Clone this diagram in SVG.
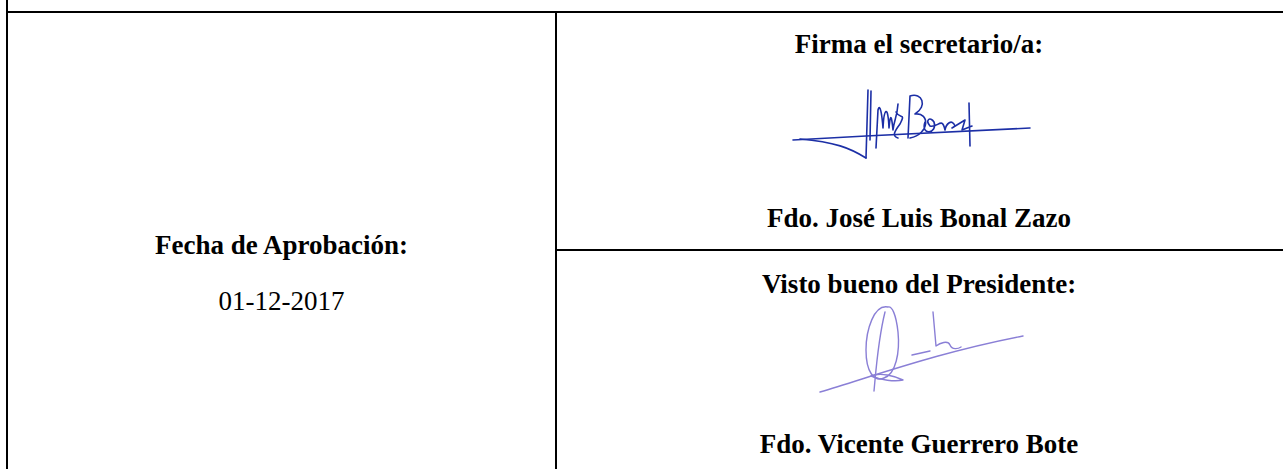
<svg xmlns="http://www.w3.org/2000/svg" width="1283" height="469" viewBox="0 0 1283 469">
<style>
.b{stroke:#000;stroke-width:2;fill:none}
.t{font-family:"Liberation Serif","Times New Roman",serif;font-size:27px;fill:#000;text-anchor:middle}
.bd{font-weight:bold}
.s1{stroke:#1c2fa6;stroke-width:1.6;fill:none;stroke-linecap:round;stroke-linejoin:round}
.s2{stroke:#8a7fd6;stroke-width:1.4;fill:none;stroke-linecap:round;stroke-linejoin:round}
</style>
<rect width="1283" height="469" fill="#fff"/>
<g id="grid">
<line class="b" x1="7" y1="0" x2="7" y2="469"/>
<line class="b" x1="6" y1="12" x2="1283" y2="12"/>
<line class="b" x1="556" y1="12" x2="556" y2="469"/>
<line class="b" x1="556" y1="250" x2="1283" y2="250"/>
</g>
<g id="cell-fecha">
<text class="t bd" x="281.5" y="254">Fecha de Aprobación:</text>
<text class="t" x="281.5" y="310">01-12-2017</text>
</g>
<g id="cell-secretario">
<text class="t bd" x="919" y="53">Firma el secretario/a:</text>
<path class="s1" d="M793,140 L866,136 L1030,128"/>
<path class="s1" d="M866,158 C850,148 835,142 800,139"/>
<path class="s1" d="M868,90 L866,158 M871,91 L870,140"/>
<path class="s1" d="M876,148 L878,110 C880,102 882,115 883,128 C884,108 888,104 889,128 C890,118 891,110 893,130 C894,120 897,118 898,104 M896,112 C900,120 906,112 900,124 C894,132 892,136 898,138"/>
<path class="s1" d="M908,138 L910,96 C922,92 928,106 915,114 C930,112 930,134 910,138 M925,122 C920,136 938,134 934,122 C930,116 925,120 930,126 C938,128 942,116 945,130 C946,124 952,118 955,126 M952,128 L965,120 L962,130 L972,126 M969,103 L970,146"/>
<text class="t bd" x="919" y="227">Fdo. José Luis Bonal Zazo</text>
</g>
<g id="cell-presidente">
<text class="t bd" x="919" y="293">Visto bueno del Presidente:</text>
<path class="s2" d="M820,392 C880,374 940,352 1023,336"/>
<path class="s2" d="M888,307 C874,304 866,330 866,350 C866,372 874,382 884,378 C896,374 900,352 898,332 C896,314 892,306 888,307 Z"/>
<path class="s2" d="M885,312 C878,340 876,370 874,391"/>
<path class="s2" d="M871,376 C880,372 895,376 903,380 C895,382 880,380 871,376"/>
<path class="s2" d="M912,355 L930,351 M933,312 L936,346 C940,343 948,340 950,345 C952,350 958,349 961,347"/>
<text class="t bd" x="919" y="453">Fdo. Vicente Guerrero Bote</text>
</g>
</svg>
